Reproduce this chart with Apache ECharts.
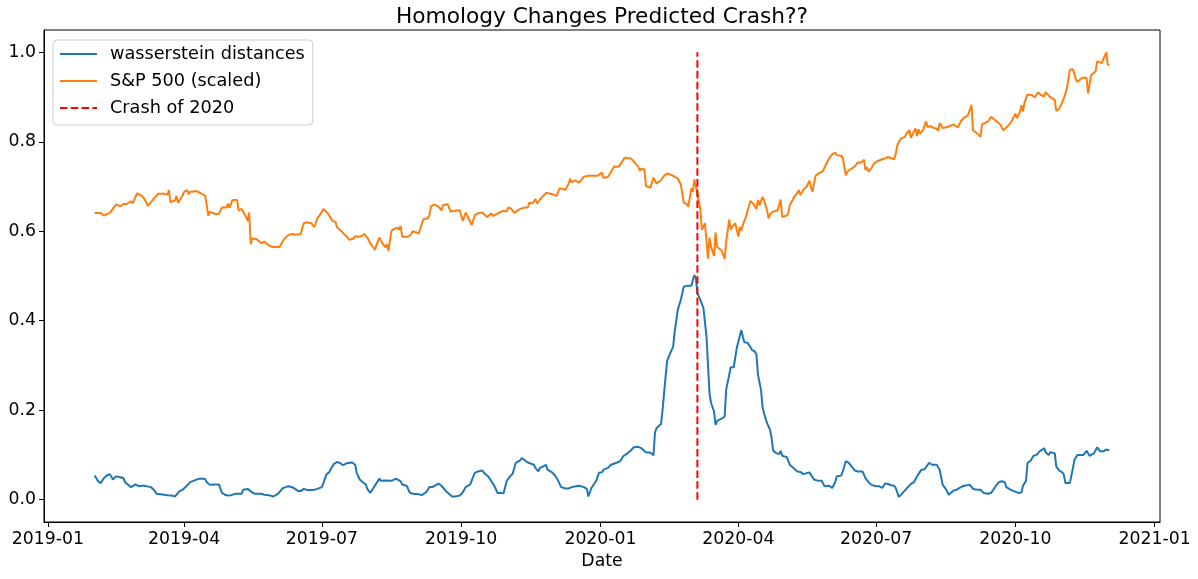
<!DOCTYPE html>
<html>
<head>
<meta charset="utf-8">
<script src="https://cdn.jsdelivr.net/npm/echarts@6/dist/echarts.min.js"></script>
<style>
html,body{margin:0;padding:0;background:#ffffff;}
#chart{width:1198px;height:579px;}
</style>
</head>
<body>
<div id="chart"></div>
<script>
// ---------------- data ----------------
const chartTitle = 'Homology Changes Predicted Crash??';
const xAxisName = 'Date';
const seriesNames = ['wasserstein distances', 'S&P 500 (scaled)', 'Crash of 2020'];

const wassersteinDates = [
'2019-02-01','2019-02-03','2019-02-05','2019-02-07','2019-02-09','2019-02-11','2019-02-13','2019-02-15','2019-02-18','2019-02-20',
'2019-02-21','2019-02-25','2019-02-26','2019-02-28','2019-03-02','2019-03-04','2019-03-06','2019-03-10','2019-03-12','2019-03-14',
'2019-03-19','2019-03-20','2019-03-21','2019-03-24','2019-03-26','2019-03-29','2019-03-31','2019-04-02','2019-04-05','2019-04-08',
'2019-04-10','2019-04-13','2019-04-15','2019-04-16','2019-04-18','2019-04-20','2019-04-24','2019-04-26','2019-04-28','2019-04-30',
'2019-05-02','2019-05-05','2019-05-07','2019-05-09','2019-05-10','2019-05-13','2019-05-14','2019-05-16','2019-05-18','2019-05-22',
'2019-05-24','2019-05-27','2019-05-30','2019-06-02','2019-06-05','2019-06-07','2019-06-09','2019-06-12','2019-06-15','2019-06-17',
'2019-06-19','2019-06-22','2019-06-26','2019-06-28','2019-07-01','2019-07-02','2019-07-04','2019-07-06','2019-07-07','2019-07-09',
'2019-07-11','2019-07-13','2019-07-15','2019-07-18','2019-07-19','2019-07-21','2019-07-23','2019-07-24','2019-07-26','2019-07-28',
'2019-07-30','2019-07-31','2019-08-01','2019-08-02','2019-08-05','2019-08-08','2019-08-09','2019-08-12','2019-08-13','2019-08-16',
'2019-08-19','2019-08-22','2019-08-23','2019-08-26','2019-08-28','2019-08-30','2019-09-03','2019-09-05','2019-09-08','2019-09-10',
'2019-09-12','2019-09-13','2019-09-16','2019-09-18','2019-09-21','2019-09-25','2019-09-27','2019-09-30','2019-10-02','2019-10-04',
'2019-10-07','2019-10-09','2019-10-10','2019-10-12','2019-10-15','2019-10-16','2019-10-19','2019-10-21','2019-10-23','2019-10-25',
'2019-10-27','2019-10-29','2019-10-31','2019-11-02','2019-11-04','2019-11-06','2019-11-09','2019-11-10','2019-11-12','2019-11-14',
'2019-11-18','2019-11-19','2019-11-21','2019-11-22','2019-11-24','2019-11-26','2019-11-27','2019-11-30','2019-12-02','2019-12-04',
'2019-12-06','2019-12-09','2019-12-11','2019-12-13','2019-12-16','2019-12-18','2019-12-21','2019-12-23','2019-12-24','2019-12-26',
'2019-12-29','2019-12-31','2020-01-02','2020-01-03','2020-01-06','2020-01-08','2020-01-12','2020-01-14','2020-01-16','2020-01-19',
'2020-01-21','2020-01-23','2020-01-26','2020-01-28','2020-01-31','2020-02-03','2020-02-05','2020-02-06','2020-02-07','2020-02-10',
'2020-02-11','2020-02-12','2020-02-13','2020-02-14','2020-02-16','2020-02-18','2020-02-19','2020-02-20','2020-02-21','2020-02-23',
'2020-02-25','2020-02-27','2020-03-01','2020-03-02','2020-03-03','2020-03-04','2020-03-05','2020-03-07','2020-03-09','2020-03-11',
'2020-03-13','2020-03-14','2020-03-16','2020-03-17','2020-03-18','2020-03-19','2020-03-21','2020-03-23','2020-03-24','2020-03-26',
'2020-03-27','2020-03-29','2020-03-31','2020-04-03','2020-04-04','2020-04-05','2020-04-07','2020-04-09','2020-04-10','2020-04-12',
'2020-04-13','2020-04-14','2020-04-16','2020-04-17','2020-04-18','2020-04-20','2020-04-22','2020-04-23','2020-04-24','2020-04-26',
'2020-04-28','2020-04-29','2020-04-30','2020-05-03','2020-05-04','2020-05-05','2020-05-08','2020-05-10','2020-05-12','2020-05-14',
'2020-05-15','2020-05-18','2020-05-21','2020-05-23','2020-05-26','2020-05-28','2020-05-31','2020-06-02','2020-06-04','2020-06-05',
'2020-06-08','2020-06-09','2020-06-11','2020-06-13','2020-06-14','2020-06-17','2020-06-19','2020-06-22','2020-06-24','2020-06-26',
'2020-06-28','2020-07-01','2020-07-03','2020-07-05','2020-07-07','2020-07-09','2020-07-11','2020-07-13','2020-07-14','2020-07-16',
'2020-07-18','2020-07-22','2020-07-24','2020-07-26','2020-07-28','2020-07-31','2020-08-02','2020-08-05','2020-08-07','2020-08-10',
'2020-08-12','2020-08-14','2020-08-16','2020-08-18','2020-08-21','2020-08-23','2020-08-26','2020-08-28','2020-09-01','2020-09-03',
'2020-09-06','2020-09-08','2020-09-10','2020-09-13','2020-09-15','2020-09-18','2020-09-20','2020-09-22','2020-09-24','2020-09-25',
'2020-09-28','2020-09-30','2020-10-03','2020-10-05','2020-10-06','2020-10-08','2020-10-09','2020-10-11','2020-10-13','2020-10-15',
'2020-10-17','2020-10-20','2020-10-21','2020-10-23','2020-10-24','2020-10-27','2020-10-28','2020-10-30','2020-11-01','2020-11-02',
'2020-11-03','2020-11-06','2020-11-08','2020-11-09','2020-11-11','2020-11-13','2020-11-15','2020-11-17','2020-11-19','2020-11-22',
'2020-11-24','2020-11-26','2020-11-28','2020-11-30','2020-12-01','2020-12-02'
];
const wassersteinValues = [
0.054,0.042,0.037,0.048,0.054,0.057,0.045,0.052,0.050,0.048,
0.039,0.028,0.030,0.034,0.030,0.031,0.031,0.028,0.022,0.013,
0.011,0.013,0.010,0.009,0.007,0.019,0.022,0.028,0.039,0.043,
0.046,0.047,0.046,0.039,0.033,0.034,0.034,0.015,0.011,0.009,
0.010,0.013,0.013,0.013,0.022,0.024,0.026,0.016,0.013,0.013,
0.011,0.010,0.007,0.013,0.025,0.028,0.030,0.027,0.020,0.019,
0.024,0.021,0.022,0.024,0.028,0.037,0.056,0.062,0.069,0.080,
0.084,0.082,0.077,0.082,0.085,0.083,0.078,0.060,0.045,0.039,
0.034,0.024,0.021,0.015,0.031,0.047,0.042,0.043,0.039,0.042,
0.047,0.041,0.034,0.031,0.016,0.013,0.012,0.010,0.017,0.028,
0.028,0.032,0.036,0.031,0.019,0.007,0.007,0.009,0.016,0.028,
0.034,0.052,0.060,0.063,0.065,0.060,0.051,0.041,0.030,0.015,
0.015,0.014,0.041,0.051,0.058,0.082,0.088,0.093,0.088,0.083,
0.078,0.071,0.063,0.071,0.074,0.078,0.067,0.061,0.054,0.043,
0.028,0.025,0.025,0.028,0.030,0.031,0.028,0.024,0.007,0.026,
0.041,0.060,0.061,0.067,0.071,0.078,0.083,0.086,0.097,0.104,
0.110,0.117,0.118,0.115,0.106,0.105,0.099,0.150,0.160,0.169,
0.201,0.238,0.275,0.310,0.327,0.342,0.376,0.398,0.424,0.446,
0.476,0.478,0.478,0.491,0.502,0.495,0.461,0.446,0.428,0.365,
0.238,0.216,0.197,0.167,0.176,0.177,0.181,0.186,0.246,0.279,
0.296,0.296,0.339,0.379,0.365,0.352,0.351,0.341,0.335,0.331,
0.324,0.279,0.246,0.208,0.193,0.171,0.156,0.138,0.110,0.104,
0.102,0.109,0.098,0.095,0.093,0.078,0.069,0.063,0.062,0.057,
0.054,0.061,0.045,0.043,0.042,0.030,0.031,0.026,0.039,0.052,
0.054,0.063,0.086,0.082,0.080,0.065,0.063,0.063,0.048,0.039,
0.033,0.030,0.030,0.026,0.036,0.035,0.032,0.031,0.026,0.006,
0.013,0.028,0.035,0.039,0.052,0.067,0.068,0.082,0.078,0.078,
0.067,0.033,0.024,0.011,0.020,0.022,0.028,0.031,0.033,0.024,
0.022,0.022,0.015,0.013,0.015,0.030,0.039,0.041,0.039,0.028,
0.022,0.019,0.015,0.016,0.031,0.042,0.082,0.087,0.098,0.100,
0.108,0.115,0.106,0.100,0.106,0.104,0.074,0.065,0.061,0.056,
0.037,0.037,0.071,0.089,0.100,0.100,0.100,0.109,0.098,0.104,
0.117,0.108,0.108,0.112,0.115,0.110
];

const spDates = [
'2019-02-01','2019-02-05','2019-02-06','2019-02-07','2019-02-08','2019-02-11','2019-02-13','2019-02-14','2019-02-15','2019-02-18',
'2019-02-19','2019-02-20','2019-02-21','2019-02-22','2019-02-25','2019-02-26','2019-02-27','2019-02-28','2019-03-01','2019-03-04',
'2019-03-06','2019-03-08','2019-03-10','2019-03-12','2019-03-15','2019-03-19','2019-03-21','2019-03-22','2019-03-23','2019-03-26',
'2019-03-27','2019-03-28','2019-03-31','2019-04-01','2019-04-03','2019-04-04','2019-04-05','2019-04-09','2019-04-10','2019-04-12',
'2019-04-15','2019-04-17','2019-04-18','2019-04-22','2019-04-24','2019-04-26','2019-04-29','2019-04-30','2019-05-01','2019-05-03',
'2019-05-06','2019-05-07','2019-05-08','2019-05-09','2019-05-12','2019-05-13','2019-05-14','2019-05-15','2019-05-16','2019-05-19',
'2019-05-22','2019-05-24','2019-05-26','2019-05-29','2019-06-03','2019-06-06','2019-06-09','2019-06-12','2019-06-14','2019-06-17',
'2019-06-19','2019-06-21','2019-06-24','2019-06-26','2019-06-28','2019-06-30','2019-07-02','2019-07-05','2019-07-08','2019-07-10',
'2019-07-11','2019-07-14','2019-07-16','2019-07-18','2019-07-19','2019-07-22','2019-07-23','2019-07-25','2019-07-26','2019-07-27',
'2019-07-29','2019-07-30','2019-07-31','2019-08-02','2019-08-05','2019-08-06','2019-08-08','2019-08-10','2019-08-12','2019-08-13',
'2019-08-14','2019-08-15','2019-08-16','2019-08-18','2019-08-20','2019-08-21','2019-08-22','2019-08-23','2019-08-27','2019-08-29',
'2019-08-30','2019-09-01','2019-09-03','2019-09-06','2019-09-09','2019-09-10','2019-09-11','2019-09-13','2019-09-16','2019-09-18',
'2019-09-19','2019-09-22','2019-09-23','2019-09-24','2019-09-27','2019-09-30','2019-10-02','2019-10-04','2019-10-05','2019-10-08',
'2019-10-10','2019-10-12','2019-10-15','2019-10-18','2019-10-21','2019-10-22','2019-10-24','2019-10-29','2019-10-31','2019-11-01',
'2019-11-03','2019-11-05','2019-11-06','2019-11-09','2019-11-12','2019-11-14','2019-11-15','2019-11-17','2019-11-19','2019-11-20',
'2019-11-22','2019-11-26','2019-12-01','2019-12-03','2019-12-05','2019-12-09','2019-12-11','2019-12-12','2019-12-13','2019-12-15',
'2019-12-18','2019-12-19','2019-12-21','2019-12-24','2019-12-30','2019-12-31','2020-01-02','2020-01-03','2020-01-06','2020-01-10',
'2020-01-13','2020-01-14','2020-01-17','2020-01-19','2020-01-21','2020-01-22','2020-01-24','2020-01-26','2020-01-27','2020-01-28',
'2020-01-30','2020-01-31','2020-02-03','2020-02-05','2020-02-06','2020-02-07','2020-02-10','2020-02-12','2020-02-14','2020-02-16',
'2020-02-19','2020-02-20','2020-02-21','2020-02-22','2020-02-23','2020-02-24','2020-02-25','2020-02-27','2020-02-28','2020-03-01',
'2020-03-02','2020-03-03','2020-03-05','2020-03-07','2020-03-08','2020-03-10','2020-03-12','2020-03-13','2020-03-14','2020-03-16',
'2020-03-17','2020-03-18','2020-03-19','2020-03-21','2020-03-23','2020-03-24','2020-03-26','2020-03-27','2020-03-28','2020-03-30',
'2020-04-01','2020-04-02','2020-04-03','2020-04-04','2020-04-06','2020-04-07','2020-04-09','2020-04-11','2020-04-13','2020-04-14',
'2020-04-15','2020-04-17','2020-04-18','2020-04-20','2020-04-21','2020-04-22','2020-04-24','2020-04-27','2020-04-28','2020-04-29',
'2020-04-30','2020-05-03','2020-05-04','2020-05-05','2020-05-08','2020-05-10','2020-05-11','2020-05-12','2020-05-13','2020-05-14',
'2020-05-16','2020-05-18','2020-05-19','2020-05-20','2020-05-22','2020-05-24','2020-05-27','2020-05-29','2020-05-31','2020-06-02',
'2020-06-04','2020-06-05','2020-06-08','2020-06-09','2020-06-11','2020-06-12','2020-06-14','2020-06-17','2020-06-19','2020-06-21',
'2020-06-22','2020-06-23','2020-06-24','2020-06-25','2020-06-26','2020-06-28','2020-06-30','2020-07-01','2020-07-02','2020-07-05',
'2020-07-07','2020-07-09','2020-07-10','2020-07-13','2020-07-14','2020-07-15','2020-07-16','2020-07-17','2020-07-20','2020-07-21',
'2020-07-23','2020-07-24','2020-07-27','2020-07-28','2020-07-29','2020-07-30','2020-08-01','2020-08-03','2020-08-04','2020-08-06',
'2020-08-08','2020-08-10','2020-08-11','2020-08-12','2020-08-14','2020-08-17','2020-08-19','2020-08-20','2020-08-21','2020-08-24',
'2020-08-26','2020-08-27','2020-08-28','2020-08-30','2020-08-31','2020-09-02','2020-09-03','2020-09-06','2020-09-08','2020-09-09',
'2020-09-10','2020-09-13','2020-09-15','2020-09-17','2020-09-19','2020-09-21','2020-09-22','2020-09-23','2020-09-24','2020-09-25',
'2020-09-28','2020-09-30','2020-10-01','2020-10-02','2020-10-04','2020-10-05','2020-10-06','2020-10-07','2020-10-09','2020-10-12',
'2020-10-14','2020-10-16','2020-10-18','2020-10-20','2020-10-21','2020-10-24','2020-10-25','2020-10-27','2020-10-28','2020-10-30',
'2020-11-02','2020-11-04','2020-11-06','2020-11-08','2020-11-09','2020-11-10','2020-11-11','2020-11-14','2020-11-17','2020-11-18',
'2020-11-20','2020-11-23','2020-11-24','2020-11-27','2020-11-28','2020-11-30','2020-12-01','2020-12-02'
];
const spValues = [
0.641,0.641,0.644,0.635,0.639,0.641,0.650,0.650,0.660,0.656,
0.653,0.661,0.657,0.661,0.667,0.662,0.670,0.668,0.685,0.679,
0.672,0.657,0.664,0.673,0.684,0.684,0.682,0.692,0.665,0.669,
0.679,0.664,0.680,0.688,0.692,0.683,0.688,0.690,0.687,0.685,
0.679,0.635,0.644,0.638,0.639,0.653,0.653,0.662,0.653,0.670,
0.670,0.646,0.647,0.650,0.632,0.623,0.642,0.571,0.584,0.582,
0.573,0.577,0.571,0.565,0.565,0.582,0.592,0.594,0.592,0.594,
0.618,0.620,0.618,0.609,0.629,0.638,0.650,0.640,0.623,0.621,
0.609,0.600,0.592,0.586,0.581,0.584,0.589,0.588,0.590,0.589,
0.594,0.592,0.586,0.573,0.558,0.569,0.586,0.573,0.564,0.571,
0.556,0.580,0.601,0.606,0.608,0.603,0.612,0.588,0.588,0.594,
0.600,0.598,0.595,0.627,0.629,0.636,0.655,0.660,0.655,0.647,
0.658,0.661,0.661,0.644,0.646,0.647,0.623,0.642,0.640,0.614,
0.636,0.640,0.642,0.632,0.640,0.634,0.638,0.646,0.644,0.653,
0.651,0.641,0.644,0.650,0.653,0.653,0.664,0.662,0.672,0.662,
0.671,0.686,0.682,0.679,0.696,0.693,0.707,0.718,0.709,0.714,
0.709,0.707,0.722,0.724,0.724,0.722,0.731,0.719,0.722,0.745,
0.744,0.744,0.765,0.763,0.763,0.765,0.752,0.744,0.735,0.740,
0.738,0.701,0.698,0.720,0.722,0.707,0.714,0.724,0.729,0.727,
0.722,0.724,0.718,0.722,0.705,0.686,0.664,0.661,0.655,0.696,
0.688,0.716,0.685,0.647,0.603,0.618,0.539,0.586,0.565,0.545,
0.597,0.565,0.565,0.557,0.538,0.577,0.626,0.604,0.610,0.618,
0.588,0.610,0.601,0.614,0.632,0.632,0.668,0.661,0.650,0.670,
0.658,0.677,0.670,0.647,0.629,0.638,0.644,0.647,0.645,0.671,
0.632,0.635,0.641,0.658,0.677,0.686,0.692,0.681,0.683,0.693,
0.699,0.713,0.699,0.688,0.724,0.729,0.735,0.750,0.763,0.772,
0.776,0.770,0.769,0.764,0.725,0.733,0.738,0.745,0.754,0.753,
0.754,0.760,0.737,0.743,0.733,0.742,0.753,0.751,0.757,0.761,
0.763,0.766,0.763,0.761,0.774,0.792,0.794,0.806,0.811,0.818,
0.826,0.809,0.830,0.813,0.828,0.818,0.826,0.846,0.833,0.835,
0.831,0.830,0.824,0.842,0.831,0.833,0.836,0.833,0.839,0.832,
0.846,0.848,0.854,0.857,0.862,0.883,0.826,0.818,0.811,0.839,
0.843,0.846,0.856,0.850,0.845,0.839,0.841,0.826,0.822,0.832,
0.843,0.856,0.863,0.853,0.867,0.882,0.868,0.887,0.906,0.904,
0.900,0.911,0.904,0.902,0.911,0.900,0.904,0.894,0.869,0.874,
0.897,0.919,0.961,0.962,0.960,0.939,0.934,0.943,0.943,0.908,
0.949,0.958,0.980,0.976,0.976,1.000,0.973,0.971
];

const crashDate = '2020-03-05';
const crashRange = [0, 1];

const xTickLabels = ['2019-01','2019-04','2019-07','2019-10','2020-01','2020-04','2020-07','2020-10','2021-01'];
const yTickValues = [0.0, 0.2, 0.4, 0.6, 0.8, 1.0];

// ---------------- helpers ----------------
function toTs(s) {
  const p = s.split('-').map(Number);
  return Date.UTC(p[0], p[1] - 1, p.length > 2 ? p[2] : 1);
}
const FONT = 'DejaVu Sans';

const blueData = wassersteinDates.map((d, i) => [toTs(d), wassersteinValues[i]]);
const orangeData = spDates.map((d, i) => [toTs(d), spValues[i]]);
const crashData = crashRange.map(v => [toTs(crashDate), v]);

// matplotlib-like 5% margins
const xFirst = Math.min(blueData[0][0], orangeData[0][0]);
const xLast = Math.max(blueData[blueData.length - 1][0], orangeData[orangeData.length - 1][0]);
const xPad = (xLast - xFirst) * 0.05;
const yLo = 0, yHi = 1;
const yPad = (yHi - yLo) * 0.05;

const xTickValues = xTickLabels.map(toTs);

const chart = echarts.init(document.getElementById('chart'), null, {renderer: 'canvas'});
chart.setOption({
  animation: false,
  backgroundColor: '#ffffff',
  textStyle: {fontFamily: FONT},
  title: {
    text: chartTitle,
    left: 602,
    textAlign: 'center',
    top: 6,
    padding: 0,
    textStyle: {fontFamily: FONT, fontSize: 21.7, fontWeight: 'normal', color: '#000'}
  },
  legend: {
    orient: 'vertical',
    left: 53,
    top: 40,
    padding: [4, 8, 7, 6],
    itemWidth: 37,
    itemHeight: 14,
    itemGap: 7,
    borderColor: '#cccccc',
    borderWidth: 1,
    borderRadius: 4,
    backgroundColor: 'rgba(255,255,255,0.8)',
    itemStyle: {opacity: 0},
    textStyle: {fontFamily: FONT, fontSize: 17.7, color: '#000', lineHeight: 20, padding: [0, 0, 0, 8]},
    data: seriesNames
  },
  grid: {
    left: 44, right: 38, top: 30, bottom: 57,
    show: true, borderColor: '#000', borderWidth: 1, backgroundColor: 'transparent'
  },
  xAxis: {
    type: 'value',
    min: xFirst - xPad,
    max: xLast + xPad,
    name: xAxisName,
    nameLocation: 'middle',
    nameGap: 31,
    nameTextStyle: {fontFamily: FONT, fontSize: 17.3, color: '#000', verticalAlign: 'top'},
    axisLine: {show: true, onZero: false, lineStyle: {color: '#000', width: 1}},
    axisTick: {show: true, length: 5, inside: false, customValues: xTickValues, lineStyle: {color: '#000', width: 1}},
    axisLabel: {
      customValues: xTickValues,
      margin: 9,
      fontFamily: FONT, fontSize: 17.3, color: '#000',
      formatter: function (v) {
        let best = 0;
        for (let i = 1; i < xTickValues.length; i++) {
          if (Math.abs(xTickValues[i] - v) < Math.abs(xTickValues[best] - v)) best = i;
        }
        return xTickLabels[best];
      }
    },
    splitLine: {show: false}
  },
  yAxis: {
    type: 'value',
    min: yLo - yPad,
    max: yHi + yPad,
    axisLine: {show: true, onZero: false, lineStyle: {color: '#000', width: 1}},
    axisTick: {show: true, length: 5, inside: false, customValues: yTickValues, lineStyle: {color: '#000', width: 1}},
    axisLabel: {
      customValues: yTickValues,
      margin: 8,
      fontFamily: FONT, fontSize: 17.3, color: '#000',
      formatter: v => Number(v).toFixed(1)
    },
    splitLine: {show: false}
  },
  series: [
    {
      name: seriesNames[0], type: 'line', data: blueData, symbol: 'none',
      lineStyle: {color: '#1f77b4', width: 2}, itemStyle: {color: '#1f77b4'}
    },
    {
      name: seriesNames[1], type: 'line', data: orangeData, symbol: 'none',
      lineStyle: {color: '#ff7f0e', width: 2}, itemStyle: {color: '#ff7f0e'}
    },
    {
      name: seriesNames[2], type: 'line', data: crashData, symbol: 'none',
      lineStyle: {color: '#ff0000', width: 2, type: [7.5, 3.3]}, itemStyle: {color: '#ff0000'}
    }
  ]
});
</script>
</body>
</html>
